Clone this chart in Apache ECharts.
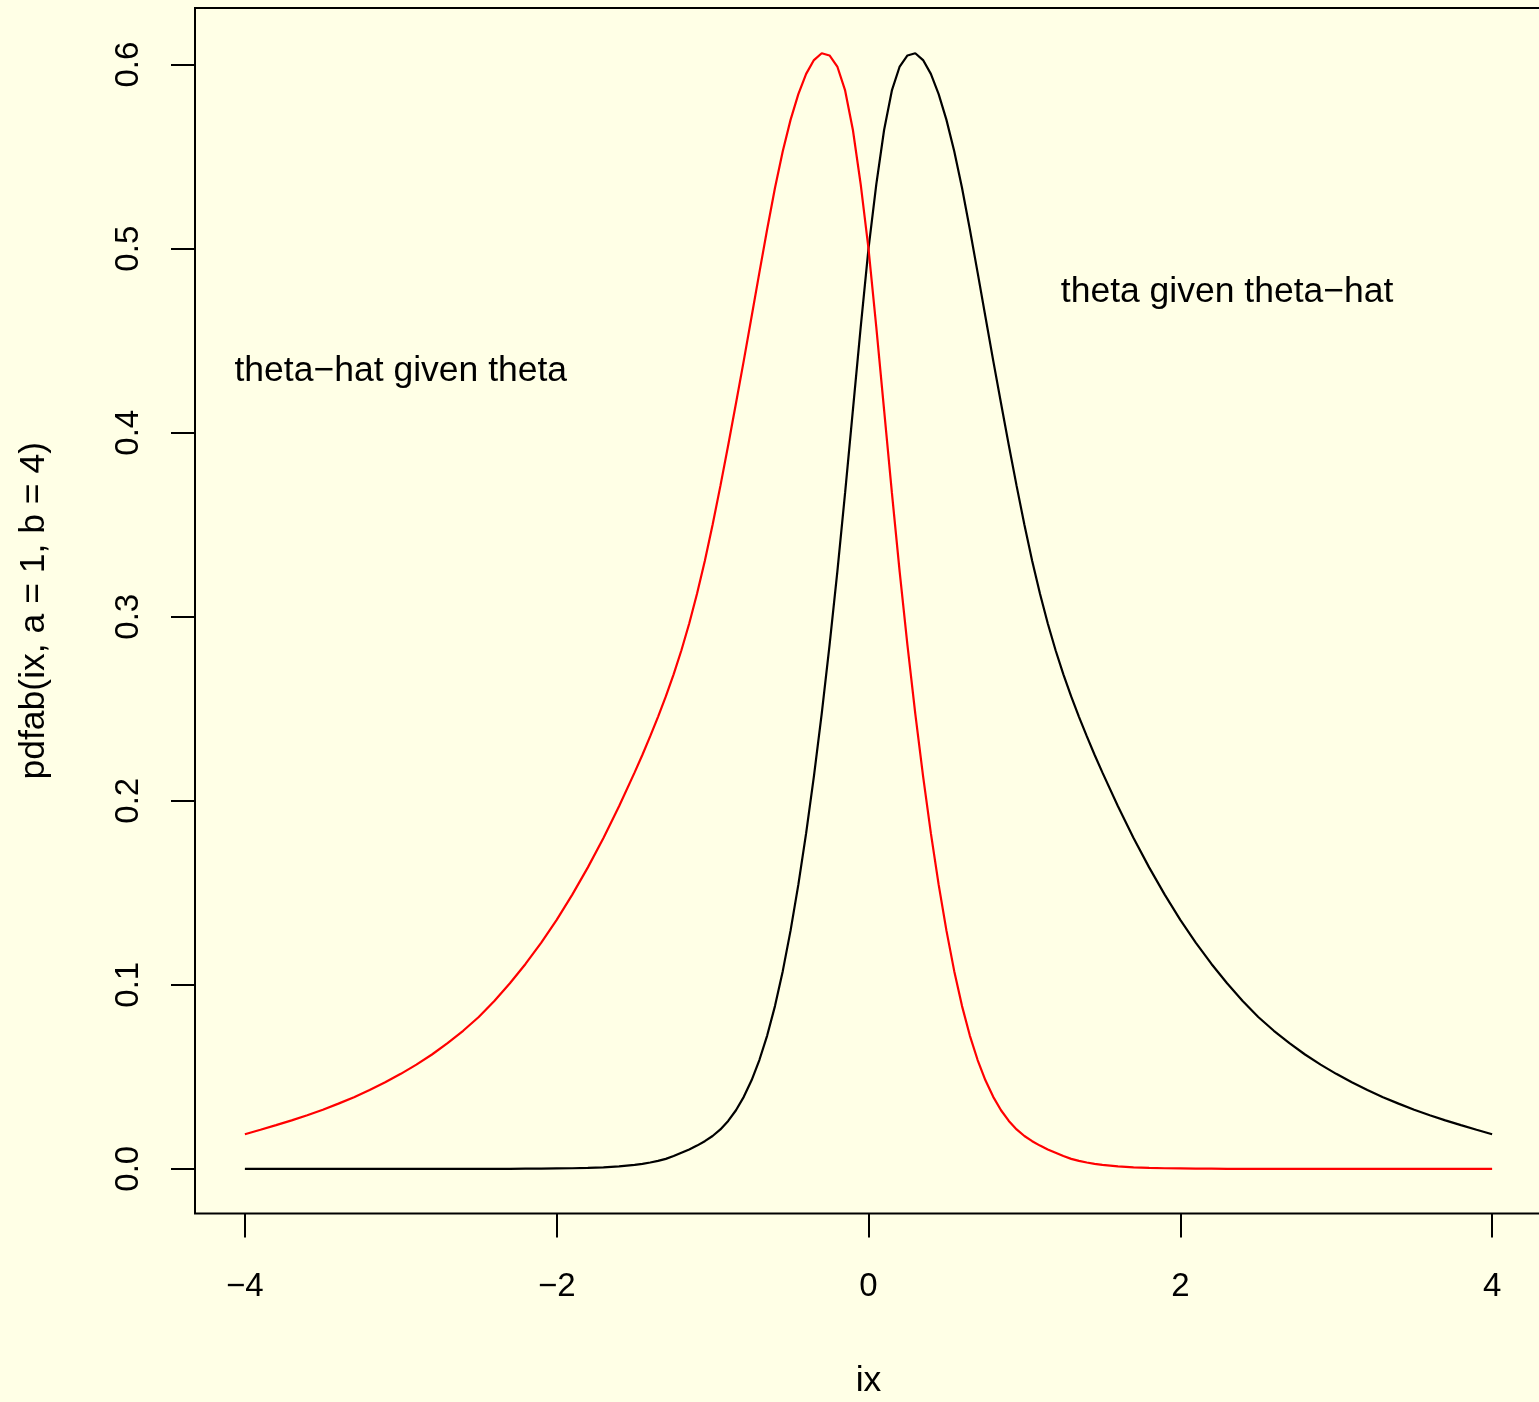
<!DOCTYPE html>
<html>
<head>
<meta charset="utf-8">
<script src="https://cdn.jsdelivr.net/npm/echarts@6/dist/echarts.min.js"></script>
<style>
  html, body { margin: 0; padding: 0; background: #FFFFE6; }
  #chart { width: 1539px; height: 1402px; }
</style>
</head>
<body>
<div id="chart"></div>
<script>
// x grid (ix)
const ix = [
  -4.0,-3.9,-3.8,-3.7,-3.6,-3.5,-3.4,-3.3,-3.2,-3.1,-3.0,-2.9,-2.8,-2.7,-2.6,-2.5,-2.4,-2.3,-2.2,-2.1,
  -2.0,-1.9,-1.8,-1.7,-1.6,
  -1.5,-1.45,-1.4,-1.35,-1.3,-1.25,-1.2,-1.15,-1.1,-1.05,-1.0,
  -0.95,-0.9,-0.85,-0.8,-0.75,-0.7,-0.65,-0.6,-0.55,-0.5,-0.45,-0.4,-0.35,-0.3,-0.25,-0.2,-0.15,-0.1,-0.05,
  0.0,
  0.05,0.1,0.15,0.2,0.25,0.3,0.35,0.4,0.45,0.5,0.55,0.6,0.65,0.7,0.75,0.8,0.85,0.9,0.95,
  1.0,1.05,1.1,1.15,1.2,1.25,1.3,1.35,1.4,1.45,1.5,
  1.6,1.7,1.8,1.9,2.0,2.1,2.2,2.3,2.4,2.5,2.6,2.7,2.8,2.9,
  3.0,3.1,3.2,3.3,3.4,3.5,3.6,3.7,3.8,3.9,4.0
];

// "theta given theta-hat" (black curve)
const thetaGivenHat = [
  0,0,0,0,0,0,0,0,0,0,0,0,0,0,0,0,0,0,0.0001,0.0001,
  0.0002,0.0003,0.0005,0.0008,0.0013,
  0.0021,0.0027,0.0034,0.0043,0.0054,0.0069,0.0087,0.0105,0.0126,0.0150,0.0178,
  0.0214,0.0260,0.0318,0.0391,0.0481,0.0591,0.0724,0.0884,0.1074,0.1294,0.1544,0.1824,0.2134,0.2474,0.2844,0.3244,0.3674,0.4124,0.4574,
  0.5000,
  0.5350,0.5645,0.5860,0.5990,0.6050,0.6062,0.6025,0.5950,0.5840,0.5700,0.5530,0.5330,0.5106,0.4870,0.4630,0.4392,0.4160,0.3932,0.3711,
  0.3500,0.3303,0.3125,0.2963,0.2818,0.2687,0.2567,0.2456,0.2351,0.2250,0.2154,
  0.1970,0.1798,0.1638,0.1490,0.1353,0.1228,0.1113,0.1008,0.0912,0.0825,0.0750,0.0683,0.0621,0.0566,
  0.0516,0.0470,0.0428,0.0389,0.0354,0.0321,0.0291,0.0263,0.0237,0.0212,0.0188
];

// "theta-hat given theta" (red curve)
const hatGivenTheta = [
  0.0188,0.0212,0.0237,0.0263,0.0291,0.0321,0.0354,0.0389,0.0428,0.0470,0.0516,0.0566,0.0621,0.0683,0.0750,0.0825,0.0912,0.1008,0.1113,0.1228,
  0.1353,0.1490,0.1638,0.1798,0.1970,
  0.2154,0.2250,0.2351,0.2456,0.2567,0.2687,0.2818,0.2963,0.3125,0.3303,0.3500,
  0.3711,0.3932,0.4160,0.4392,0.4630,0.4870,0.5106,0.5330,0.5530,0.5700,0.5840,0.5950,0.6025,0.6062,0.6050,0.5990,0.5860,0.5645,0.5350,
  0.5000,
  0.4574,0.4124,0.3674,0.3244,0.2844,0.2474,0.2134,0.1824,0.1544,0.1294,0.1074,0.0884,0.0724,0.0591,0.0481,0.0391,0.0318,0.0260,0.0214,
  0.0178,0.0150,0.0126,0.0105,0.0087,0.0069,0.0054,0.0043,0.0034,0.0027,0.0021,
  0.0013,0.0008,0.0005,0.0003,0.0002,0.0001,0.0001,0,0,0,0,0,0,0,
  0,0,0,0,0,0,0,0,0,0,0
];

// tick values
const xTicks = [-4, -2, 0, 2, 4];
const yTicks = [0.0, 0.1, 0.2, 0.3, 0.4, 0.5, 0.6];

// text annotations (data coordinates)
const annotText = ['theta given theta\u2212hat', 'theta\u2212hat given theta'];
const annotX = [2.3, -3.0];
const annotY = [0.4763, 0.4333];

const FONT = "'Liberation Sans', Arial, Helvetica, sans-serif";
const FS_TICK = 33;
const FS_TEXT = 35.5;

const chart = echarts.init(document.getElementById('chart'), null, { renderer: 'canvas' });

const pairs = (xs, ys) => xs.map((x, i) => [x, ys[i]]);

chart.setOption({
  backgroundColor: '#FFFFE6',
  animation: false,
  grid: {
    left: 195, top: 8, width: 1347, height: 1205.5,
    containLabel: false, outerBoundsMode: 'none',
    show: true, borderColor: '#000', borderWidth: 2, backgroundColor: 'transparent'
  },
  xAxis: {
    type: 'value', min: -4.32, max: 4.32,
    name: 'ix', nameLocation: 'middle', nameGap: 150,
    nameTextStyle: { fontFamily: FONT, fontSize: FS_TEXT, color: '#000' },
    axisLine: { show: false, onZero: false },
    splitLine: { show: false },
    axisTick: { show: true, customValues: xTicks, length: 24, lineStyle: { color: '#000', width: 2 } },
    axisLabel: {
      show: true, customValues: xTicks, margin: 57,
      fontFamily: FONT, fontSize: FS_TICK, color: '#000',
      formatter: v => (v < 0 ? '\u2212' + Math.abs(v) : String(v))
    }
  },
  yAxis: {
    type: 'value', min: -0.0243, max: 0.6308,
    name: 'pdfab(ix, a = 1, b = 4)', nameLocation: 'middle', nameGap: 143, nameRotate: 90,
    nameTextStyle: { fontFamily: FONT, fontSize: FS_TEXT, color: '#000' },
    axisLine: { show: false, onZero: false },
    splitLine: { show: false },
    axisTick: { show: true, customValues: yTicks, length: 24, lineStyle: { color: '#000', width: 2 } },
    axisLabel: {
      show: true, customValues: yTicks, margin: 50, rotate: 90,
      fontFamily: FONT, fontSize: FS_TICK, color: '#000',
      formatter: v => v.toFixed(1)
    }
  },
  series: [
    {
      type: 'line', name: 'theta given theta-hat', data: pairs(ix, thetaGivenHat),
      showSymbol: false, symbol: 'none', smooth: false,
      lineStyle: { color: '#000000', width: 2.2 }, z: 3
    },
    {
      type: 'line', name: 'theta-hat given theta', data: pairs(ix, hatGivenTheta),
      showSymbol: false, symbol: 'none', smooth: false,
      lineStyle: { color: '#FF0000', width: 2.2 }, z: 4
    },
    {
      type: 'custom',
      data: annotText.map((t, i) => [annotX[i], annotY[i], i]),
      renderItem: (params, api) => {
        const p = api.coord([api.value(0), api.value(1)]);
        return {
          type: 'text', x: p[0], y: p[1],
          style: {
            text: annotText[api.value(2)], fill: '#000000',
            font: FS_TEXT + 'px ' + FONT, align: 'center', verticalAlign: 'middle'
          }
        };
      },
      silent: true, z: 5
    }
  ]
});
</script>
</body>
</html>
